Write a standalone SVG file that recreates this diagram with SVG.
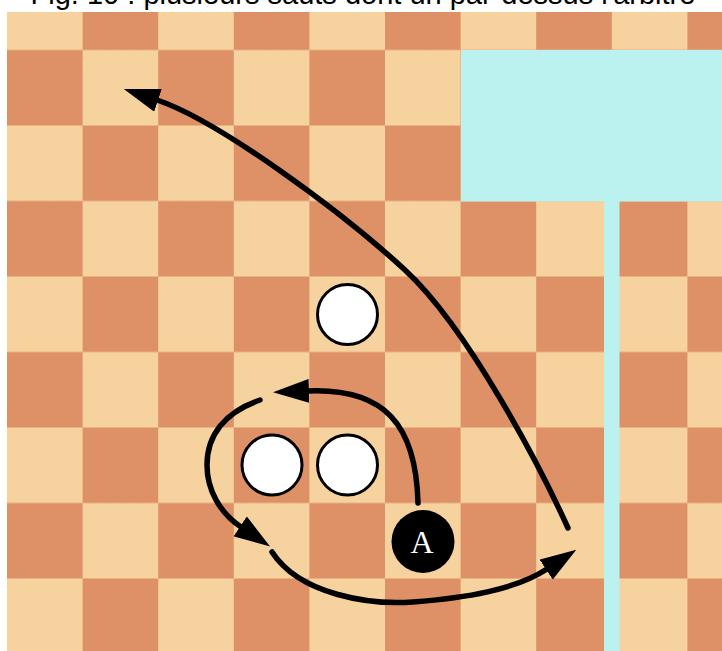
<svg xmlns="http://www.w3.org/2000/svg" width="722" height="651" viewBox="0 0 722 651">
  <style>
    .title { font-family: "Liberation Sans", Arial, sans-serif; font-size: 29px; fill: #000; }
    .piece { fill: #ffffff; stroke: #000; stroke-width: 3; }
    .arbiter { fill: #000; }
    .label { font-family: "Liberation Serif", "Times New Roman", serif; font-size: 32px; fill: #fff; text-anchor: middle; }
    .jump { fill: none; stroke: #000; stroke-width: 5.5; stroke-linecap: round; marker-end: url(#head); }
    .water { fill: #bbf1ee; }
  </style>
  <defs>
    <pattern id="board" patternUnits="userSpaceOnUse" x="7" y="-25.5" width="151.2" height="151">
      <rect x="0" y="0" width="151.2" height="151" fill="#f6d29e"/>
      <rect x="75.6" y="0" width="75.6" height="75.5" fill="#de9067"/>
      <rect x="0" y="75.5" width="75.6" height="75.5" fill="#de9067"/>
    </pattern>
    <marker id="head" markerUnits="userSpaceOnUse" viewBox="0 0 36 24" markerWidth="36" markerHeight="24" refX="1" refY="12" orient="auto">
      <path d="M0,0 L36,12 L0,24 z" fill="#000"/>
    </marker>
  </defs>
  <rect x="0" y="0" width="722" height="651" fill="#ffffff"/>
  <text class="title" x="363" y="4" text-anchor="middle">Fig. 10 : plusieurs sauts dont un par-dessus l'arbitre</text>
  <g id="board-area">
    <rect x="7" y="12" width="715" height="639" fill="url(#board)"/>
    <rect class="water" x="461" y="50" width="261" height="151.5"/>
    <rect class="water" x="604" y="201" width="15.5" height="450"/>
  </g>
  <g id="piece-1"><circle class="piece" cx="347.5" cy="314.5" r="30"/></g>
  <g id="piece-2"><circle class="piece" cx="272" cy="465" r="30"/></g>
  <g id="piece-3"><circle class="piece" cx="347.5" cy="465" r="30"/></g>
  <g id="arbiter-A">
    <circle class="arbiter" cx="423" cy="541.5" r="31.5"/>
    <text class="label" x="422" y="553">A</text>
  </g>
  <g id="connectors">
    <path class="jump" d="M418,503 C416,425 385,388 308,391"/>
    <path class="jump" d="M260,400 C225,412 207,435 207,465 C207,490 220,513 241,527"/>
    <path class="jump" d="M272,552 C300,595 370,605 413,602 C465,598 515,590 547,569"/>
    <path class="jump" d="M568,528 C543,473 470,330 405,270 C340,210 217,120 157,100"/>
  </g>
</svg>
